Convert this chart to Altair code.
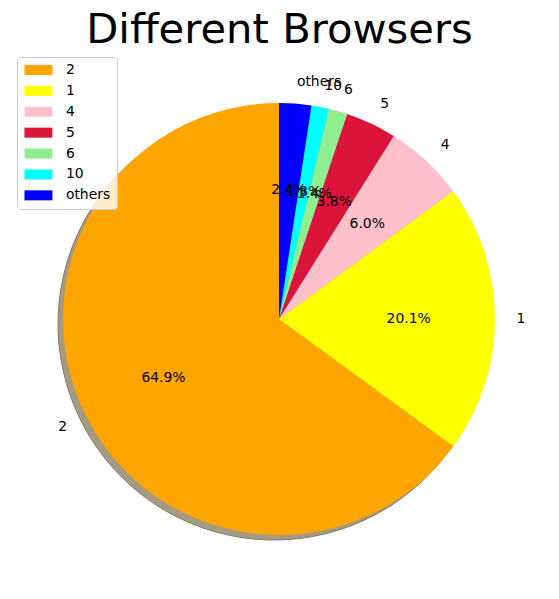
import altair as alt
import pandas as pd
import math

title_text = ["Different Browsers"]
labels = ["2", "1", "4", "5", "6", "10", "others"]
shares = [64.9, 20.1, 6.0, 3.8, 1.4, 1.3, 2.4]
colors = ["#FFA500", "#FFFF00", "#FFC0CB", "#DC143C", "#90EE90", "#00FFFF", "#0000FF"]
# matplotlib draws counter-clockwise from 12 o'clock; Vega draws clockwise
draw_order = [6, 5, 4, 3, 2, 1, 0]

df = pd.DataFrame({"label": labels, "share": shares, "ord": draw_order})

CX, CY, R = 279, 319, 216
FONT = "DejaVu Sans"

base = alt.Chart(df).transform_window(
    cum="sum(share)", sort=[alt.SortField("ord")], frame=[None, 0]
).transform_joinaggregate(total="sum(share)").transform_calculate(
    t0="(datum.cum - datum.share) / datum.total",
    t1="datum.cum / datum.total",
    tm="(datum.cum - datum.share / 2) / datum.total",
    pct="format(datum.share, '.1f') + '%'",
)

tscale = alt.Scale(domain=[0, 1], range=[0, 2 * math.pi])

shadow = base.mark_arc(fill="#A59B82", stroke="#857A60", strokeWidth=1).encode(
    theta=alt.Theta("t0:Q", scale=tscale, stack=None),
    theta2="t1:Q",
    x=alt.value(CX - 5), y=alt.value(CY + 5), radius=alt.value(R),
)

legend = alt.Legend(
    title=None, orient="none", legendX=17, legendY=57, padding=6, rowPadding=5.9,
    symbolType="M-2.8,-1L2.8,-1L2.8,1L-2.8,1Z", symbolSize=100, symbolStrokeWidth=0,
    symbolOffset=8.5, labelOffset=20.5, labelFont=FONT, labelFontSize=13.9,
    labelColor="black", fillColor="rgba(255,255,255,0.8)", strokeColor="#CCCCCC",
    cornerRadius=3, symbolOpacity=1,
)

pie = base.mark_arc().encode(
    theta=alt.Theta("t0:Q", scale=tscale, stack=None),
    theta2="t1:Q",
    color=alt.Color("label:N", scale=alt.Scale(domain=labels, range=colors), legend=legend),
    x=alt.value(CX), y=alt.value(CY), radius=alt.value(R),
)

pct = base.mark_text(align="center", baseline="middle", font=FONT, fontSize=13.9, color="black").encode(
    theta=alt.Theta("tm:Q", scale=tscale, stack=None),
    radius=alt.value(0.6 * R), x=alt.value(CX), y=alt.value(CY), text="pct:N",
)

lab_right = base.transform_filter("datum.tm < 0.5").mark_text(
    align="left", baseline="middle", font=FONT, fontSize=13.9, color="black"
).encode(
    theta=alt.Theta("tm:Q", scale=tscale, stack=None),
    radius=alt.value(1.1 * R), x=alt.value(CX), y=alt.value(CY), text="label:N",
)
lab_left = base.transform_filter("datum.tm >= 0.5").mark_text(
    align="right", baseline="middle", font=FONT, fontSize=13.9, color="black"
).encode(
    theta=alt.Theta("tm:Q", scale=tscale, stack=None),
    radius=alt.value(1.1 * R), x=alt.value(CX), y=alt.value(CY), text="label:N",
)

title = alt.Chart(pd.DataFrame({"t": title_text})).mark_text(
    align="center", baseline="alphabetic", font=FONT, fontSize=41.7, color="black"
).encode(x=alt.value(279.5), y=alt.value(43), text="t:N")

chart = alt.layer(shadow, pie, pct, lab_right, lab_left, title).properties(
    width=559, height=599,
    autosize=alt.AutoSizeParams(type="none"),
    padding=0,
    background="white",
).configure_view(stroke=None)

chart.save("out.html", embed_options={"renderer": "svg", "actions": False})
